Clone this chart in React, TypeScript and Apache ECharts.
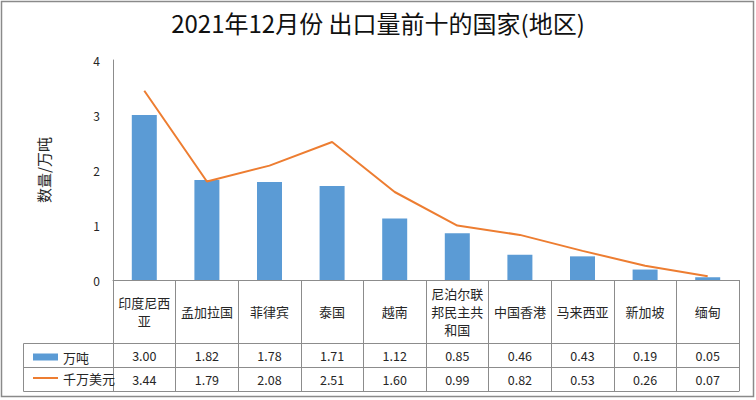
import React, { useEffect, useRef } from "react";
import * as echarts from "echarts";

const categories = ["印度尼西亚", "孟加拉国", "菲律宾", "泰国", "越南", "尼泊尔联邦民主共和国", "中国香港", "马来西亚", "新加坡", "缅甸"];
const tons = [3.0, 1.82, 1.78, 1.71, 1.12, 0.85, 0.46, 0.43, 0.19, 0.05];
const usd = [3.44, 1.79, 2.08, 2.51, 1.6, 0.99, 0.82, 0.53, 0.26, 0.07];
const seriesNames = ["万吨", "千万美元"];
const titleText = "2021年12月份 出口量前十的国家(地区)";
const yName = "数量/万吨";

const FONT = "'Noto Sans CJK SC', 'Noto Sans', sans-serif";
const GRID_COLOR = "#8c8c8c";
const TEXT_COLOR = "#262626";

// wrap a label into lines of at most 4 characters
const wrap4 = (s: string) => {
  const parts: string[] = [];
  for (let i = 0; i < s.length; i += 4) parts.push(s.slice(i, i + 4));
  return parts.join("\n");
};

export default function App() {
  const ref = useRef<HTMLDivElement>(null);
  useEffect(() => {
    if (!ref.current) return;
    const chart = echarts.init(ref.current, undefined, { renderer: "svg" });
    const tableAxis = (offset: number, values: number[] | null) => ({
      type: "category",
      data: categories,
      position: "bottom",
      gridIndex: 0,
      offset,
      axisLine: { show: true, lineStyle: { color: GRID_COLOR, width: 1 } },
      axisTick: { show: false },
      axisLabel: {
        show: !!values,
        interval: 0,
        margin: 12,
        verticalAlign: "middle",
        fontSize: 12.5,
        color: TEXT_COLOR,
        fontFamily: FONT,
        formatter: (_v: string, i: number) => (values ? values[i].toFixed(2) : ""),
      },
    });
    chart.setOption({
      animation: false,
      backgroundColor: "#fff",
      title: {
        text: titleText,
        left: "center",
        top: 5,
        textStyle: { fontSize: 24, fontWeight: "normal", color: "#111", fontFamily: FONT },
      },
      grid: { left: 113, right: 17, top: 60, bottom: 120 },
      legend: {
        orient: "vertical",
        left: 27,
        top: 345,
        itemWidth: 25,
        itemHeight: 7,
        itemGap: 7,
        textStyle: { fontSize: 13, color: TEXT_COLOR, fontFamily: FONT, lineHeight: 14 },
        data: [
          { name: seriesNames[0], icon: "rect" },
          { name: seriesNames[1], itemStyle: { opacity: 0 } },
        ],
      },
      xAxis: [
        {
          type: "category",
          data: categories,
          position: "bottom",
          axisLine: { show: true, lineStyle: { color: GRID_COLOR, width: 1 } },
          axisTick: { show: true, length: 111, lineStyle: { color: GRID_COLOR } },
          axisLabel: {
            interval: 0,
            margin: 31,
            verticalAlign: "middle",
            fontSize: 13,
            lineHeight: 18,
            color: TEXT_COLOR,
            fontFamily: FONT,
            formatter: (v: string) => wrap4(v),
          },
        },
        tableAxis(63, tons),
        tableAxis(87, usd),
        tableAxis(111, null),
      ],
      yAxis: {
        type: "value",
        min: 0,
        max: 4,
        interval: 1,
        name: yName,
        nameLocation: "middle",
        nameGap: 62,
        nameRotate: 90,
        nameTextStyle: { fontSize: 15, color: TEXT_COLOR, fontFamily: FONT },
        axisLine: { show: true, lineStyle: { color: GRID_COLOR } },
        axisTick: { show: false },
        splitLine: { show: false },
        axisLabel: { fontSize: 12, color: TEXT_COLOR, margin: 13, fontFamily: FONT },
      },
      series: [
        {
          name: seriesNames[0],
          type: "bar",
          data: tons,
          barWidth: 25,
          itemStyle: { color: "#5B9BD5" },
        },
        {
          name: seriesNames[1],
          type: "line",
          data: usd,
          symbol: "none",
          lineStyle: { color: "#ED7D31", width: 2 },
          itemStyle: { color: "#ED7D31" },
        },
      ],
      graphic: [
        {
          type: "rect",
          shape: { x: 1.5, y: 1.5, width: 752, height: 395 },
          style: { fill: "none", stroke: "#8a8a8a", lineWidth: 1.5 },
          silent: true,
        },
        {
          type: "rect",
          shape: { x: 23.5, y: 343.5, width: 90, height: 48 },
          style: { fill: "none", stroke: GRID_COLOR, lineWidth: 1 },
          silent: true,
        },
        {
          type: "line",
          shape: { x1: 23.5, y1: 367.5, x2: 113.5, y2: 367.5 },
          style: { stroke: GRID_COLOR, lineWidth: 1 },
          silent: true,
        },
      ],
    });
    return () => chart.dispose();
  }, []);
  return <div ref={ref} style={{ position: "fixed", left: 0, top: 0, width: 756, height: 400 }} />;
}
